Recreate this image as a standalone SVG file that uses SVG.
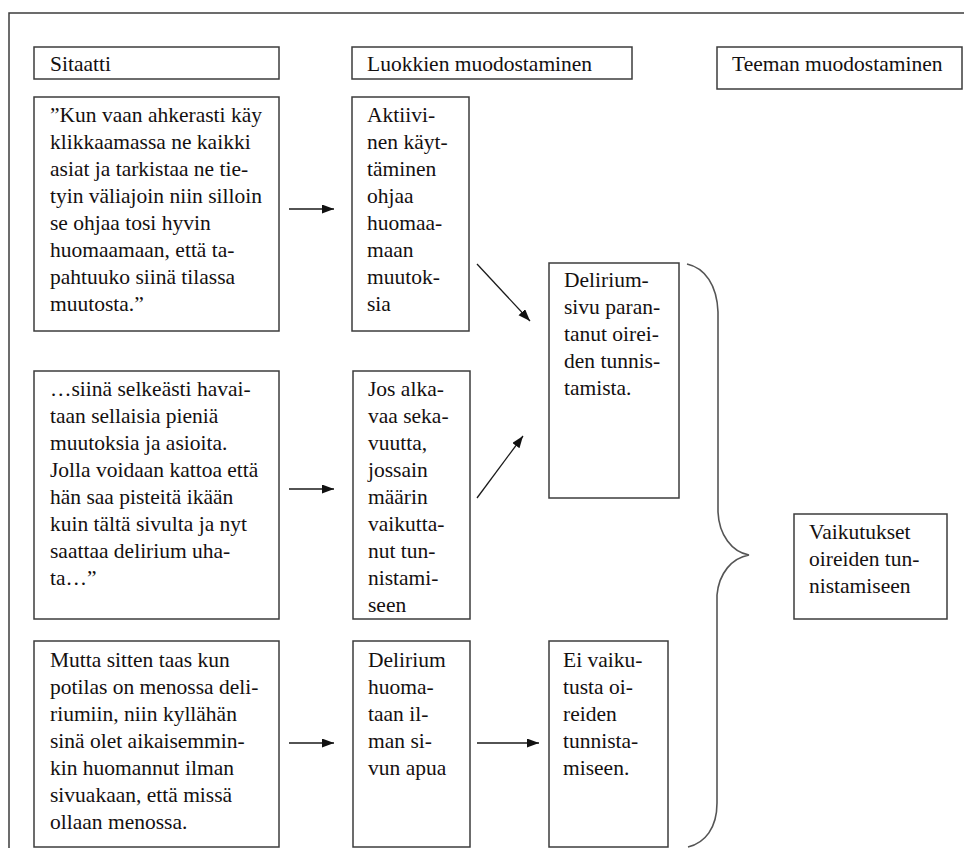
<svg xmlns="http://www.w3.org/2000/svg" width="964" height="848" viewBox="0 0 964 848">
<style>
.box{fill:#fff;stroke:#3c3c3c;stroke-width:1.5}
.t{font-family:"Liberation Serif","Times New Roman",serif;font-size:21.5px;fill:#141010}
.con{stroke:#1a1a1a;stroke-width:1.3;fill:none}
.brace{stroke:#555;stroke-width:1.6;fill:none}
</style>
<defs>
<marker id="ah" markerUnits="userSpaceOnUse" markerWidth="13" markerHeight="10" refX="12" refY="4.5" orient="auto">
<path d="M0,0 L12,4.5 L0,9 z" fill="#111"/>
</marker>
</defs>
<rect width="964" height="848" fill="#fff"/>
<path d="M9,848 V13 H964" fill="none" stroke="#3c3c3c" stroke-width="1.5"/>

<g id="h-sitaatti"><rect class="box" x="34" y="47" width="245" height="32"/><text class="t" x="50" y="71">Sitaatti</text></g>
<g id="h-luokkien"><rect class="box" x="352" y="47" width="280" height="32"/><text class="t" x="367" y="71">Luokkien muodostaminen</text></g>
<g id="h-teeman"><rect class="box" x="717" y="47" width="245" height="42"/><text class="t" x="732" y="71">Teeman muodostaminen</text></g>

<g id="q1"><rect class="box" x="34" y="97" width="245" height="234"/>
<text class="t" y="122"><tspan x="50">”Kun vaan ahkerasti käy</tspan><tspan x="50" dy="27">klikkaamassa ne kaikki</tspan><tspan x="50" dy="27">asiat ja tarkistaa ne tie-</tspan><tspan x="50" dy="27">tyin väliajoin niin silloin</tspan><tspan x="50" dy="27">se ohjaa tosi hyvin</tspan><tspan x="50" dy="27">huomaamaan, että ta-</tspan><tspan x="50" dy="27">pahtuuko siinä tilassa</tspan><tspan x="50" dy="27">muutosta.”</tspan></text></g>

<g id="c1"><rect class="box" x="352" y="97" width="117" height="234"/>
<text class="t" y="122"><tspan x="367">Aktiivi-</tspan><tspan x="367" dy="27">nen käyt-</tspan><tspan x="367" dy="27">täminen</tspan><tspan x="367" dy="27">ohjaa</tspan><tspan x="367" dy="27">huomaa-</tspan><tspan x="367" dy="27">maan</tspan><tspan x="367" dy="27">muutok-</tspan><tspan x="367" dy="27">sia</tspan></text></g>

<g id="r1"><rect class="box" x="549" y="263" width="130" height="235"/>
<text class="t" y="287"><tspan x="564">Delirium-</tspan><tspan x="564" dy="27">sivu paran-</tspan><tspan x="564" dy="27">tanut oirei-</tspan><tspan x="564" dy="27">den tunnis-</tspan><tspan x="564" dy="27">tamista.</tspan></text></g>

<g id="q2"><rect class="box" x="34" y="371" width="245" height="248"/>
<text class="t" y="396"><tspan x="50">…siinä selkeästi havai-</tspan><tspan x="50" dy="27">taan sellaisia pieniä</tspan><tspan x="50" dy="27">muutoksia ja asioita.</tspan><tspan x="50" dy="27">Jolla voidaan kattoa että</tspan><tspan x="50" dy="27">hän saa pisteitä ikään</tspan><tspan x="50" dy="27">kuin tältä sivulta ja nyt</tspan><tspan x="50" dy="27">saattaa delirium uha-</tspan><tspan x="50" dy="27">ta…”</tspan></text></g>

<g id="c2"><rect class="box" x="353" y="371" width="117" height="248"/>
<text class="t" y="396"><tspan x="368">Jos alka-</tspan><tspan x="368" dy="27">vaa seka-</tspan><tspan x="368" dy="27">vuutta,</tspan><tspan x="368" dy="27">jossain</tspan><tspan x="368" dy="27">määrin</tspan><tspan x="368" dy="27">vaikutta-</tspan><tspan x="368" dy="27">nut tun-</tspan><tspan x="368" dy="27">nistami-</tspan><tspan x="368" dy="27">seen</tspan></text></g>

<g id="theme"><rect class="box" x="794" y="514" width="153" height="105"/>
<text class="t" y="539"><tspan x="809">Vaikutukset</tspan><tspan x="809" dy="27">oireiden tun-</tspan><tspan x="809" dy="27">nistamiseen</tspan></text></g>

<g id="q3"><rect class="box" x="34" y="641" width="245" height="206"/>
<text class="t" y="667"><tspan x="50">Mutta sitten taas kun</tspan><tspan x="50" dy="27">potilas on menossa deli-</tspan><tspan x="50" dy="27">riumiin, niin kyllähän</tspan><tspan x="50" dy="27">sinä olet aikaisemmin-</tspan><tspan x="50" dy="27">kin huomannut ilman</tspan><tspan x="50" dy="27">sivuakaan, että missä</tspan><tspan x="50" dy="27">ollaan menossa.</tspan></text></g>

<g id="c3"><rect class="box" x="353" y="641" width="117" height="206"/>
<text class="t" y="667"><tspan x="368">Delirium</tspan><tspan x="368" dy="27">huoma-</tspan><tspan x="368" dy="27">taan il-</tspan><tspan x="368" dy="27">man si-</tspan><tspan x="368" dy="27">vun apua</tspan></text></g>

<g id="r3"><rect class="box" x="549" y="641" width="119" height="206"/>
<text class="t" y="667"><tspan x="563">Ei vaiku-</tspan><tspan x="563" dy="27">tusta oi-</tspan><tspan x="563" dy="27">reiden</tspan><tspan x="563" dy="27">tunnista-</tspan><tspan x="563" dy="27">miseen.</tspan></text></g>

<g id="connectors">
<line class="con" x1="289" y1="209" x2="334" y2="209" marker-end="url(#ah)"/>
<line class="con" x1="289" y1="489" x2="334" y2="489" marker-end="url(#ah)"/>
<line class="con" x1="289" y1="743" x2="334" y2="743" marker-end="url(#ah)"/>
<line class="con" x1="477" y1="743" x2="539" y2="743" marker-end="url(#ah)"/>
<line class="con" x1="477" y1="264" x2="530" y2="321" marker-end="url(#ah)"/>
<line class="con" x1="477" y1="498" x2="523" y2="436" marker-end="url(#ah)"/>
<path id="brace" class="brace" d="M687,264 C705,268 717,285 718,312 V512 C719,535 732,552 749,555 C732,558 719,573 717,595 V803 C717,828 705,843 688,847"/>
</g>
</svg>
